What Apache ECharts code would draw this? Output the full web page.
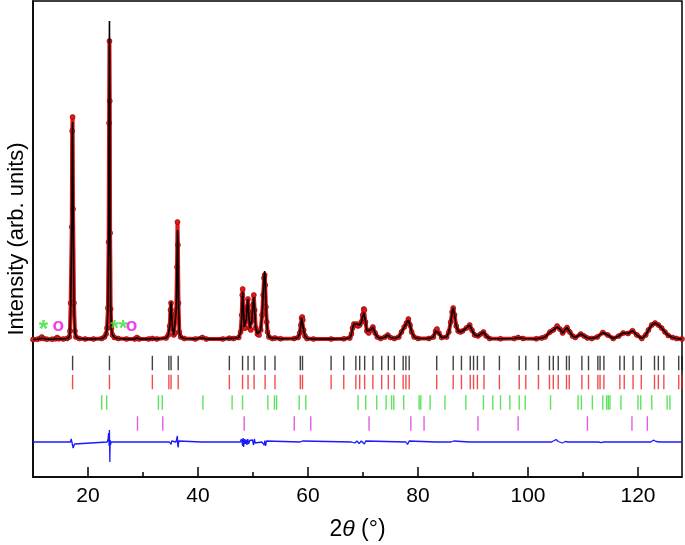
<!DOCTYPE html>
<html>
<head>
<meta charset="utf-8">
<script src="https://cdn.jsdelivr.net/npm/echarts@6/dist/echarts.min.js"></script>
<style>
html,body{margin:0;padding:0;background:#fff;}
#chart{width:685px;height:545px;}
</style>
</head>
<body>
<div id="chart"></div>
<script>
// ---- Profile (2θ in degrees, intensity in arb. units above background) ----
var twoTheta = [10.0,10.8,11.3,11.6,11.9,12.5,13.5,14.1,14.4,14.7,15.5,16.2,16.6,16.72,16.85,17.05,17.12,17.2,17.28,17.45,17.62,17.8,18.4,19.5,21.0,22.5,23.0,23.3,23.45,23.62,23.75,23.83,23.9,23.96,24.02,24.12,24.25,24.45,24.8,25.5,27.0,28.5,28.9,29.3,31.0,31.7,32.5,34.2,34.6,34.85,35.0,35.1,35.2,35.35,35.6,35.85,36.05,36.18,36.27,36.35,36.45,36.6,36.85,37.5,39.5,40.8,41.5,44.5,45.7,46.5,47.4,47.75,47.95,48.05,48.13,48.22,48.4,48.6,48.8,48.95,49.08,49.2,49.4,49.6,49.8,50.0,50.15,50.3,50.5,50.8,51.1,51.4,51.65,51.85,52.0,52.12,52.22,52.35,52.5,52.65,52.9,53.5,54.0,55.0,57.5,58.2,58.5,58.7,58.85,58.95,59.05,59.2,59.45,59.8,61.0,64.2,66.5,67.6,67.9,68.1,68.35,68.6,68.85,69.1,69.4,69.7,69.95,70.15,70.25,70.45,70.7,71.05,71.4,71.8,72.2,72.6,73.2,74.0,74.5,75.0,75.7,76.5,77.0,77.5,77.9,78.25,78.55,78.85,79.3,80.0,82.0,82.8,83.2,83.45,83.8,84.3,85.2,85.6,85.95,86.2,86.4,86.65,86.95,87.3,87.7,88.1,88.8,89.4,89.8,90.3,90.9,91.4,91.9,92.4,93.0,95.0,97.5,98.2,99.1,101.5,102.5,103.1,104.0,104.6,105.3,105.8,106.3,106.7,107.1,107.6,108.1,108.6,109.6,110.2,110.8,111.6,112.6,113.6,114.5,115.5,116.5,117.3,118.2,119.0,119.8,120.7,121.4,121.9,122.5,123.1,123.7,124.3,124.9,125.5,126.3,127.0,128.0];
var yObs = [0.5,0.8,1.5,3,1.5,0.8,0.8,1.2,2.5,1.2,1,1.5,3,9,37,113,209,223,131,37,9,3,1.5,1,1,1.5,3,6,12,32,98,217,299,239,107,31,12,5,2.5,1.5,1,1,2.5,1,1,1.5,1,2,5,14,30,37,26,12,5,7,30,73,118,95,37,8,3,1.5,1,2.5,1,1,1.8,1.5,2.5,8,25,45,51,30,12,12,22,33,41,28,12,10,20,35,45,30,12,6,5,10,25,45,62,65,55,33,18,8,3,1.5,2,1.2,1.5,2.5,7,15,22,23,20,10,4,1.5,1,1,1.2,2,6,12,16,15,16,14,15,18,25,31,30,18,9,7,10,13,7,3,1.5,3,5,2.5,1.5,3,8,13,17,21,15,8,3,1.5,1.5,3,9,11,7,2.5,3,8,18,28,32,25,14,9,8,9,12,15,10,5,4,6,8,4,1.5,1.2,1.5,2.5,1.5,1.2,2,3,8,10,14,11,7,10,12.5,8,4,2.5,6,4,2,1.5,3,7.5,5,1.5,4,7,6.5,9.3,5,1.5,5,10,15,17,15,12,8,4.5,2.5,1.5,1];
var yCalc = [0.5,0.8,1.5,2.8,1.5,0.8,0.8,1.2,2.3,1.2,1,1.5,3,8,30,120,200,218,140,33,9,3,1.5,1,1,1.5,3,6,11,30,105,230,319,245,120,33,11,5,2.5,1.5,1,1,2.3,1,1,1.5,1,2,5,14,30,38,27,12,5,7,30,75,110,98,40,8,3,1.5,1,2.3,1,1,1.8,1.5,2.5,8,22,42,48,34,13,12,21,35,41,28,12,10,20,35,43,30,12,6,5,10,25,46,63,69,60,35,18,8,3,1.5,2,1.2,1.5,2.5,7,15,22,23,20,10,4,1.5,1,1,1.2,2,6,12,16,15,16,14,15,18,24,27,28,19,9,7,10,13,7,3,1.5,3,5,2.5,1.5,3,8,13,17,20,15,8,3,1.5,1.5,3,9,11,7,2.5,3,8,18,28,32,25,14,9,8,9,12,15,10,5,4,6,8,4,1.5,1.2,1.5,2.5,1.5,1.2,2,3,8,10,13,11,7,10,12.5,8,4,2.5,6,4,2,1.5,3,7.5,5,1.5,4,7,6.5,9.3,5,1.5,5,10,15,17,15,12,8,4.5,2.5,1.5,1];

// ---- Difference curve (obs - calc) ----
var diffTheta = [10,11.3,11.6,11.9,14.2,14.45,14.7,16.8,16.95,17.05,17.15,17.3,17.42,17.55,17.7,23.5,23.65,23.75,23.8,23.85,23.9,23.97,24.03,24.1,24.2,28.7,28.95,29.2,34.8,35.0,35.1,35.2,35.35,36.0,36.15,36.25,36.32,36.4,36.5,36.6,40.6,40.8,41.0,47.7,47.9,48.05,48.12,48.2,48.3,48.45,48.6,48.75,48.9,49.05,49.2,49.4,49.6,49.9,50.1,50.25,50.4,50.7,51.6,51.85,52.05,52.15,52.28,52.45,52.6,58.6,58.8,59.0,59.2,67.9,68.2,68.5,68.9,69.3,69.7,70.05,70.25,70.5,70.8,77.8,78.1,78.4,78.7,83.2,83.4,83.6,86.0,86.25,86.5,86.8,89.3,89.5,89.8,104.3,104.6,105.1,105.5,106.2,106.8,107.3,112.8,113.3,113.8,122.3,122.8,123.3,124.0,128];
var diffVal = [0,0,1.5,0,0,1,0,0,3,5,1,-6,-8,-2,0,0,3,9,11,-4,12,-20,2,-3,0,0,1,0,0,-1,-2.5,1,0,0,2,6,-3,-5.5,1,0,0,0.8,0,0,3,2,-4,4,-5,3,-2,2.5,-3,3,-2,1.5,0,2,-3,3,-1,0,0,2,-3,1.5,-4,1,0,0,-1.5,1,0,0,1.5,-1,1,-1.5,1,2,-2,1,0,0,-2.5,1,0,0,1,0,0,-1,1,0,0,1,0,0,-0.5,2.5,0.5,-1,0.5,0,0,-0.7,0,0,1.8,0.5,0,0];

// ---- Bragg reflection positions (2θ, degrees) ----
var braggPhase1 = [17.2,23.9,31.7,34.7,35.1,36.4,45.7,48.1,49.1,50.2,52.2,54.0,58.6,59.0,64.2,66.5,68.7,69.4,70.3,71.8,73.4,74.6,75.7,77.3,77.8,78.4,83.4,86.4,87.9,89.5,90.1,90.8,92.0,94.8,98.4,99.6,101.9,103.9,104.6,105.5,107.0,107.5,109.8,111.0,112.7,113.1,113.8,116.7,117.5,119.1,120.6,123.0,123.7,124.7,127.4,128.0];
var braggPhase2 = [17.2,23.9,31.7,34.7,35.1,36.4,45.7,48.1,49.1,50.2,52.2,54.0,58.6,59.0,64.2,66.5,68.7,69.4,70.3,71.8,73.4,74.6,75.7,77.3,77.8,78.4,83.4,86.4,87.9,89.5,90.1,90.8,92.0,94.8,98.4,99.6,101.9,103.9,104.6,105.5,107.0,107.5,109.8,111.0,112.7,113.1,113.8,116.7,117.5,119.1,120.6,123.0,123.7,124.7,127.4,128.0];
var braggPhase3 = [22.5,23.4,32.8,33.5,40.9,46.2,48.1,52.7,53.9,54.3,58.4,59.6,69.1,70.5,72.5,74.2,75.2,75.6,77.4,80.2,80.5,82.2,84.9,88.7,91.9,93.6,95.0,96.7,98.4,99.5,104.1,109.1,109.7,111.7,113.6,114.3,114.6,114.9,116.9,120.0,120.5,122.5,125.3,125.8];
var braggPhase4 = [29.0,33.6,48.4,57.5,60.5,71.1,78.7,81.1,90.9,98.2,110.8,118.9,121.7];

// ---- Axis ticks and impurity markers ----
var xMajorTicks = [20,40,60,80,100,120];
var xMinorTicks = [30,50,70,90,110];
var markerText  = ['*','o','**','o'];
var markerTheta = [11.9,14.6,25.6,27.9];
var markerY     = [15,14,15,14];

// ---- layout constants (row offsets below the pattern) ----
var ROW = {p1:-23, p2:-42, p3:-62.5, p4:-83.5, diff:-102};
var FONT = "'Liberation Sans', Arial, Helvetica, sans-serif";
var markerStyle = {
  '*':  {color:'#2ee02e', fontSize:24, dy:5},
  '**': {color:'#2ee02e', fontSize:22, dy:4},
  'o':  {color:'#ee10ee', fontSize:19, dy:0}
};

function pairs(xs, ys, off){ return xs.map(function(x,i){ return [x, ys[i] + (off||0)]; }); }
function row(xs, y){ return xs.map(function(x){ return [x, y]; }); }
function tickSeries(name, xs, y, color){
  return {name:name, type:'scatter', data:row(xs,y), symbol:'rect', symbolSize:[1.4,14.5],
    itemStyle:{color:color}, silent:true, z:2, animation:false};
}

var chart = echarts.init(document.getElementById('chart'), null, {renderer:'canvas'});
chart.setOption({
  animation:false,
  backgroundColor:'#fff',
  grid:{left:33, top:1, right:3, bottom:68, show:true, borderColor:'#000', borderWidth:1.5, outerBoundsMode:'none'},
  xAxis:[{
    type:'value', min:10, max:128, position:'bottom',
    axisLine:{show:true, onZero:false, lineStyle:{color:'#000', width:1.5}},
    axisTick:{show:true, inside:true, length:10, customValues:xMajorTicks, lineStyle:{color:'#000', width:1.5}},
    axisLabel:{show:true, customValues:xMajorTicks, fontSize:21, color:'#000', margin:9, fontFamily:FONT},
    splitLine:{show:false},
    name:'{a|2}{b|θ}{a| (°)}', nameLocation:'middle', nameGap:41,
    nameTextStyle:{fontSize:23, color:'#000', fontFamily:FONT,
      rich:{a:{fontSize:23, color:'#000', fontFamily:FONT}, b:{fontSize:23, color:'#000', fontStyle:'italic', fontFamily:FONT}}}
  },{
    type:'value', min:10, max:128, position:'bottom',
    axisLine:{show:false, onZero:false},
    axisTick:{show:true, inside:true, length:5, customValues:xMinorTicks, lineStyle:{color:'#000', width:1.5}},
    axisLabel:{show:false}, splitLine:{show:false}
  }],
  yAxis:{
    type:'value', min:-137, max:339,
    axisLine:{show:true, onZero:false, lineStyle:{color:'#000', width:1.5}},
    axisTick:{show:false}, axisLabel:{show:false}, splitLine:{show:false},
    name:'Intensity (arb. units)', nameLocation:'middle', nameRotate:90, nameGap:5,
    nameTextStyle:{fontSize:22, color:'#000', fontFamily:FONT}
  },
  series:[
    tickSeries('phase1', braggPhase1, ROW.p1, '#111111'),
    tickSeries('phase2', braggPhase2, ROW.p2, '#ee2020'),
    tickSeries('phase3', braggPhase3, ROW.p3, '#33dd33'),
    tickSeries('phase4', braggPhase4, ROW.p4, '#e030e0'),
    {name:'diff', type:'line', data:pairs(diffTheta, diffVal, ROW.diff), showSymbol:false, symbol:'none',
      lineStyle:{color:'#1a1aff', width:1.3}, silent:true, z:3},
    {name:'obs', type:'line', data:pairs(twoTheta, yObs), symbol:'circle', symbolSize:5, showSymbol:true, showAllSymbol:true,
      lineStyle:{color:'#dd1515', width:4}, itemStyle:{color:'#e01818', borderColor:'#8a0000', borderWidth:0.6}, silent:true, z:4},
    {name:'calc', type:'line', data:pairs(twoTheta, yCalc), showSymbol:false, symbol:'none',
      lineStyle:{color:'#000', width:1.6}, silent:true, z:5},
    {name:'markers', type:'scatter', symbolSize:0, silent:true, z:6,
      data:markerTheta.map(function(x,i){
        var s = markerStyle[markerText[i]];
        return {value:[x, markerY[i] - s.dy], name:markerText[i],
          label:{color:s.color, fontSize:s.fontSize}}; }),
      label:{show:true, position:'inside', formatter:'{b}', fontWeight:'bold', fontFamily:FONT}}
  ]
});
</script>
</body>
</html>
